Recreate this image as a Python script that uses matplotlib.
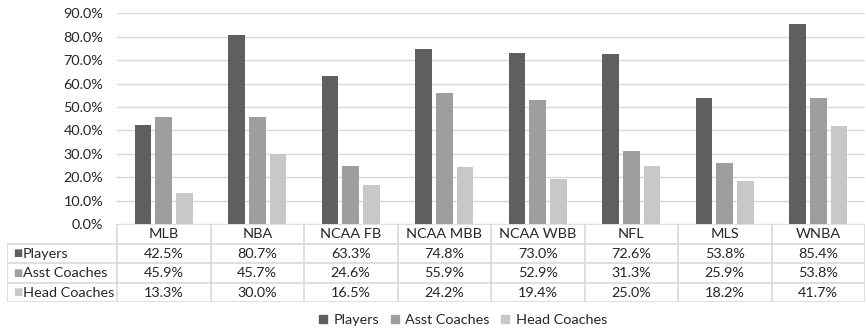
import numpy as np
import matplotlib.pyplot as plt
from matplotlib.patches import Patch

plt.rcParams['font.family'] = ['Lato', 'DejaVu Sans']

leagues = ["MLB", "NBA", "NCAA FB", "NCAA MBB", "NCAA WBB", "NFL", "MLS", "WNBA"]
players = [42.5, 80.7, 63.3, 74.8, 73.0, 72.6, 53.8, 85.4]
asst_coaches = [45.9, 45.7, 24.6, 55.9, 52.9, 31.3, 25.9, 53.8]
head_coaches = [13.3, 30.0, 16.5, 24.2, 19.4, 25.0, 18.2, 41.7]

series_names = ["Players", "Asst Coaches", "Head Coaches"]
series_values = [players, asst_coaches, head_coaches]
colors = ["#5f5f61", "#9d9ea0", "#c6c8ca"]
grid_c = "#d9d9d9"
text_c = "#262626"
fs = 10.4

W, H = 866, 330
fig = plt.figure(figsize=(W / 100, H / 100), dpi=100)

# plot area in pixels
px0, px1 = 117, 865
py_top, py_zero = 13.4, 224
ax = fig.add_axes([px0 / W, 1 - py_zero / H, (px1 - px0) / W, (py_zero - py_top) / H])

x = np.arange(len(leagues))
width = 0.18
step = 0.222
for i, (vals, c) in enumerate(zip(series_values, colors)):
    ax.bar(x + (i - 1) * step, vals, width, color=c, zorder=3)

ax.set_xlim(-0.5, len(leagues) - 0.5)
ax.set_ylim(0, 90)
ax.set_yticks(np.arange(0, 91, 10))
ax.set_yticklabels([f"{v:.1f}%" for v in np.arange(0, 91, 10)], fontsize=fs, color=text_c)
ax.tick_params(axis="y", length=0, pad=10)
ax.set_xticks([])
ax.grid(axis="y", color=grid_c, linewidth=1, zorder=0)
for s in ax.spines.values():
    s.set_visible(False)

# data table below the plot
tx0, ty0, ty1 = 7, 224, 302
rows = len(series_names) + 1
left = -0.5 - (px0 - tx0) / ((px1 - px0) / len(leagues))
tax = fig.add_axes([tx0 / W, 1 - ty1 / H, (px1 - tx0) / W, (ty1 - ty0) / H])
tax.set_xlim(left, len(leagues) - 0.5)
tax.set_ylim(rows, 0)
tax.axis("off")

lw = 1.2
# horizontal rules
tax.plot([-0.5, len(leagues) - 0.5], [0, 0], color=grid_c, lw=lw)
for r in range(1, rows + 1):
    tax.plot([left, len(leagues) - 0.5], [r, r], color=grid_c, lw=lw)
# vertical rules
tax.plot([left, left], [1, rows], color=grid_c, lw=lw)
for k in range(len(leagues) + 1):
    tax.plot([k - 0.5, k - 0.5], [0, rows], color=grid_c, lw=lw)

for k, name in enumerate(leagues):
    tax.text(k, 0.52, name, ha="center", va="center", fontsize=fs, color=text_c)
for r, (name, vals, c) in enumerate(zip(series_names, series_values, colors), start=1):
    tax.text(left + 0.07, r + 0.52, "\u25a0", ha="left", va="center", fontsize=7, color=c)
    tax.text(left + 0.17, r + 0.52, name, ha="left", va="center", fontsize=fs, color=text_c)
    for k, v in enumerate(vals):
        tax.text(k, r + 0.52, f"{v:.1f}%", ha="center", va="center", fontsize=fs, color=text_c)

handles = [Patch(color=c, label=n) for n, c in zip(series_names, colors)]
fig.legend(handles=handles, loc="center", bbox_to_anchor=(463 / W, 1 - 320 / H), ncol=3,
           frameon=False, fontsize=fs, handlelength=0.55, handleheight=0.55,
           handletextpad=0.45, columnspacing=0.8, labelcolor=text_c)

fig.savefig("out.png", dpi=100)
